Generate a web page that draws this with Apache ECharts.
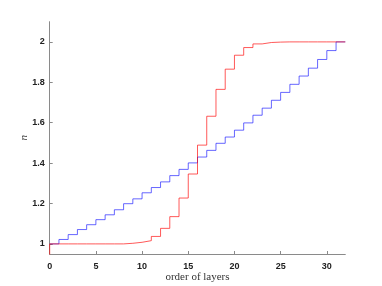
<!DOCTYPE html>
<html><head><meta charset="utf-8">
<script src="https://cdn.jsdelivr.net/npm/echarts@6/dist/echarts.min.js"></script>
<style>html,body{margin:0;padding:0;background:#fff}#c{width:382px;height:286px}</style>
</head><body><div id="c"></div>
<script>
const layers = [0,1,2,3,4,5,6,7,8,9,10,11,12,13,14,15,16,17,18,19,20,21,22,23,24,25,26,27,28,29,30,31,32];
const blueN = [1.0,1.022,1.046,1.071,1.095,1.12,1.144,1.169,1.199,1.223,1.253,1.279,1.307,1.338,1.369,1.401,1.43,1.463,1.498,1.529,1.563,1.599,1.637,1.672,1.711,1.75,1.79,1.831,1.87,1.913,1.957,2.0,2.0];
const redN = [1.0,1.0,1.0,1.0,1.0,1.0,1.0,1.0,1.003,1.008,1.016,1.037,1.077,1.135,1.227,1.346,1.489,1.632,1.765,1.865,1.934,1.972,1.99,1.997,1.999,2.0,2.0,2.0,2.0,2.0,2.0,2.0,2.0];
const redStart = 0.9;
const xTicks = [0,5,10,15,20,25,30];
const yTicks = [1,1.2,1.4,1.6,1.8,2];

const blueData = layers.map((x,i)=>[x, blueN[i]]);
const redData = [[0, redStart]].concat(layers.map((x,i)=>[x, redN[i]]));

const axisCol = '#8a8a8a';
const labelStyle = {fontFamily:'Liberation Sans', fontSize:9, fontWeight:'bold', color:'#222'};
const chart = echarts.init(document.getElementById('c'), null, {renderer:'canvas'});
chart.setOption({
  animation:false,
  grid:{left:49.7, right:36.7, top:21.7, bottom:32, containLabel:false, outerBoundsMode:'none'},
  xAxis:{type:'value', min:0, max:32,
    name:'order of layers', nameLocation:'middle', nameGap:23, nameMoveOverlap:false,
    nameTextStyle:{fontFamily:'Liberation Serif', fontSize:11, color:'#333', verticalAlign:'middle'},
    axisLine:{lineStyle:{color:axisCol, width:1}},
    axisTick:{inside:true, length:3, customValues:xTicks, lineStyle:{color:axisCol}},
    axisLabel:{customValues:xTicks, margin:8, ...labelStyle},
    splitLine:{show:false}},
  yAxis:{type:'value', min:0.95, max:2.1,
    name:'n', nameLocation:'middle', nameGap:26, nameRotate:90, nameMoveOverlap:false,
    nameTextStyle:{fontFamily:'Liberation Serif', fontStyle:'italic', fontSize:11, color:'#333', verticalAlign:'middle'},
    axisLine:{show:true, lineStyle:{color:axisCol, width:1}},
    axisTick:{show:true, inside:true, length:3, customValues:yTicks, lineStyle:{color:axisCol}},
    axisLabel:{customValues:yTicks, margin:5, ...labelStyle},
    splitLine:{show:false}},
  series:[
    {type:'line', step:'end', data:blueData, showSymbol:false, lineStyle:{color:'#0000ff', width:1, opacity:0.6}, itemStyle:{color:'#0000ff'}},
    {type:'line', step:'end', data:redData, showSymbol:false, lineStyle:{color:'#ff0000', width:1, opacity:0.65}, itemStyle:{color:'#ff0000'}}
  ]
});
</script></body></html>
